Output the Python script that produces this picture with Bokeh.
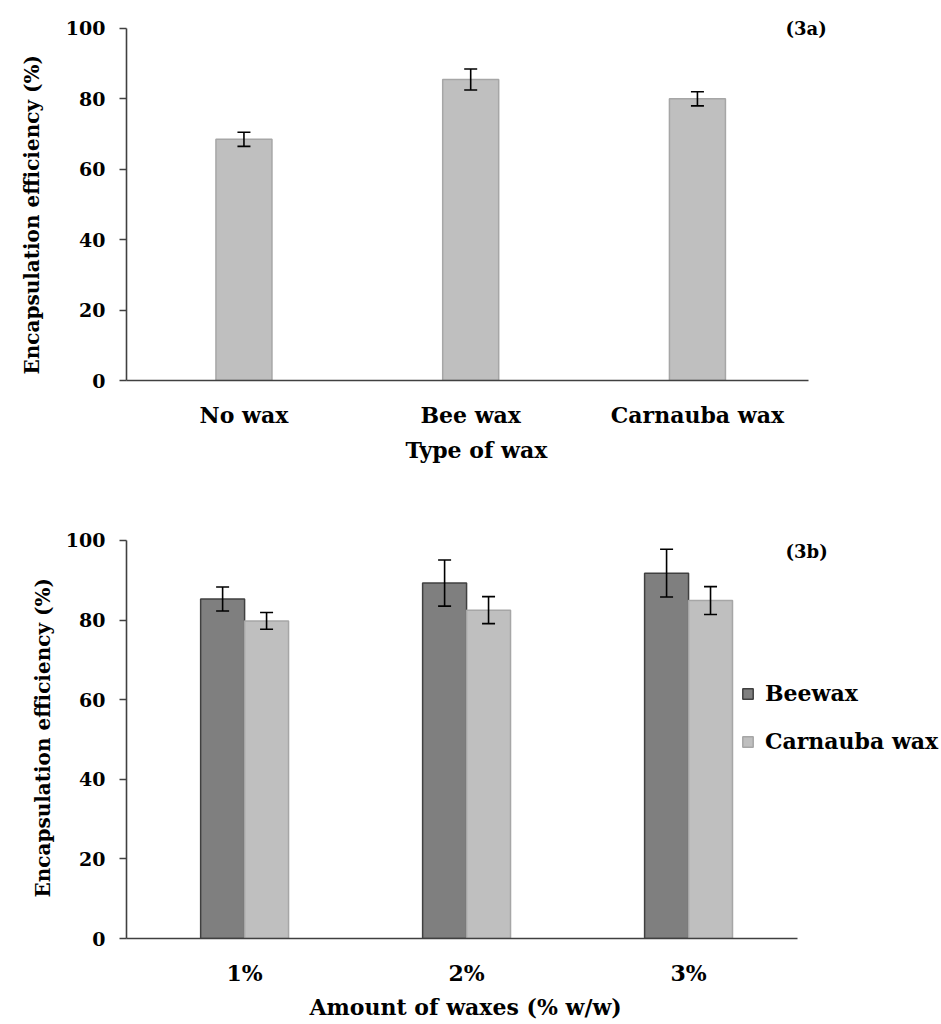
from bokeh.plotting import figure
from bokeh.models import (ColumnDataSource, Whisker, TeeHead, Label, Legend,
                          LegendItem, Range1d, FixedTicker, Title)
from bokeh.transform import dodge
from bokeh.layouts import column
from bokeh.embed import file_html
from bokeh.resources import INLINE

# ---------------- data ----------------
wax_types = ["No wax", "Bee wax", "Carnauba wax"]
ee_3a = [68.5, 85.5, 80.0]
err_3a = [2.0, 3.0, 2.0]

amounts = ["1%", "2%", "3%"]
beewax = [85.3, 89.3, 91.8]
beewax_err = [3.0, 5.8, 6.0]
carnauba = [79.8, 82.5, 84.9]
carnauba_err = [2.1, 3.4, 3.5]

y_ticks = [0, 20, 40, 60, 80, 100]

x_title_3a = "Type of wax"
x_title_3b = "Amount of waxes (% w/w)"
y_title = "Encapsulation efficiency (%)"

FONT = "DejaVu Serif"
AXIS_COL = "#404040"


def style(p, cats, xbounds, xstandoff):
    p.xgrid.visible = False
    p.ygrid.visible = False
    p.outline_line_color = None
    p.background_fill_color = "white"
    p.border_fill_color = "white"
    for ax in (p.xaxis[0], p.yaxis[0]):
        ax.axis_line_color = AXIS_COL
        ax.axis_line_width = 1.6
        ax.minor_tick_line_color = None
        ax.major_label_text_font = FONT
        ax.major_label_text_font_style = "bold"
        ax.major_label_text_color = "black"
    p.xaxis.ticker = FixedTicker(ticks=list(range(len(cats))))
    p.xaxis.major_label_overrides = {i: c for i, c in enumerate(cats)}
    p.xaxis.bounds = xbounds
    p.xaxis.major_tick_line_color = None
    p.xaxis.major_tick_out = 0
    p.xaxis.major_tick_in = 0
    p.xaxis.major_label_text_font_size = "22px"
    p.xaxis.major_label_standoff = xstandoff
    p.yaxis.ticker = FixedTicker(ticks=y_ticks)
    p.yaxis.bounds = (0, 100)
    p.yaxis.major_tick_line_color = AXIS_COL
    p.yaxis.major_tick_line_width = 1.5
    p.yaxis.major_tick_out = 7
    p.yaxis.major_tick_in = 0
    p.yaxis.major_label_standoff = 14
    p.yaxis.major_label_text_font_size = "19px"


def title(text, size, offset, standoff):
    return Title(text=text, align="left", vertical_align="middle",
                 offset=offset, standoff=standoff,
                 text_font=FONT, text_font_style="bold", text_font_size=size,
                 text_color="black")


def whisker(src, base, up, lo):
    return Whisker(base=base, upper=up, lower=lo, source=src,
                   line_color="black", line_width=1.6, level="overlay",
                   upper_head=TeeHead(size=13, line_color="black", line_width=1.6),
                   lower_head=TeeHead(size=13, line_color="black", line_width=1.6))


# ---------------- (3a) ----------------
p1 = figure(x_range=Range1d(-0.518, 3.072), y_range=Range1d(0, 105.1),
            width=940, height=470,
            output_backend="svg", toolbar_location=None,
            min_border_left=126, min_border_right=0,
            min_border_top=10, min_border_bottom=90)
src1 = ColumnDataSource(dict(x=list(range(len(wax_types))), y=ee_3a,
                             upper=[v + e for v, e in zip(ee_3a, err_3a)],
                             lower=[v - e for v, e in zip(ee_3a, err_3a)]))
p1.vbar(x="x", top="y", width=0.247, source=src1,
        fill_color="#BFBFBF", line_color="#A6A6A6", line_width=1.5)
p1.add_layout(whisker(src1, "x", "upper", "lower"))
style(p1, wax_types, (-0.518, 2.49), 21)
p1.add_layout(title(x_title_3a, "22px", 279, 10), "below")
p1.add_layout(title(y_title, "20px", 6, 35), "left")
p1.add_layout(Label(x=659, y=352, x_units="screen", y_units="screen",
                    text="(3a)", text_font=FONT, text_font_style="bold",
                    text_font_size="18px", text_baseline="middle",
                    text_color="black"))

# ---------------- (3b) ----------------
p2 = figure(x_range=Range1d(-0.532, 3.135), y_range=Range1d(0, 102.51),
            width=940, height=554,
            output_backend="svg", toolbar_location=None,
            min_border_left=126, min_border_right=0,
            min_border_top=60, min_border_bottom=86)
src2 = ColumnDataSource(dict(
    x=list(range(len(amounts))), bee=beewax, carn=carnauba,
    bee_up=[v + e for v, e in zip(beewax, beewax_err)],
    bee_lo=[v - e for v, e in zip(beewax, beewax_err)],
    carn_up=[v + e for v, e in zip(carnauba, carnauba_err)],
    carn_lo=[v - e for v, e in zip(carnauba, carnauba_err)]))
off = 0.099
r_bee = p2.vbar(x=dodge("x", -off), top="bee", width=0.198,
                source=src2, fill_color="#7F7F7F", line_color="#404040",
                line_width=1.5)
r_carn = p2.vbar(x=dodge("x", off), top="carn", width=0.198,
                 source=src2, fill_color="#BFBFBF", line_color="#A6A6A6",
                 line_width=1.5)
p2.add_layout(whisker(src2, dodge("x", -off), "bee_up", "bee_lo"))
p2.add_layout(whisker(src2, dodge("x", off), "carn_up", "carn_lo"))
style(p2, amounts, (-0.532, 2.49), 21)
p2.add_layout(title(x_title_3b, "22px", 183, 8), "below")
p2.add_layout(title(y_title, "20px", 41, 14), "left")
p2.add_layout(Label(x=659, y=387, x_units="screen", y_units="screen",
                    text="(3b)", text_font=FONT, text_font_style="bold",
                    text_font_size="18px", text_baseline="middle",
                    text_color="black"))
legend = Legend(items=[LegendItem(label="Beewax", renderers=[r_bee]),
                       LegendItem(label="Carnauba wax", renderers=[r_carn])],
                location=(615, 184), orientation="vertical",
                glyph_width=13, glyph_height=13, label_standoff=11,
                spacing=22, padding=0, margin=0,
                border_line_color=None, background_fill_alpha=0,
                label_text_font=FONT, label_text_font_style="bold",
                label_text_font_size="22px", label_text_color="black")
p2.add_layout(legend)

layout = column(p1, p2, spacing=0)
open("out.html", "w").write(file_html(layout, INLINE))
